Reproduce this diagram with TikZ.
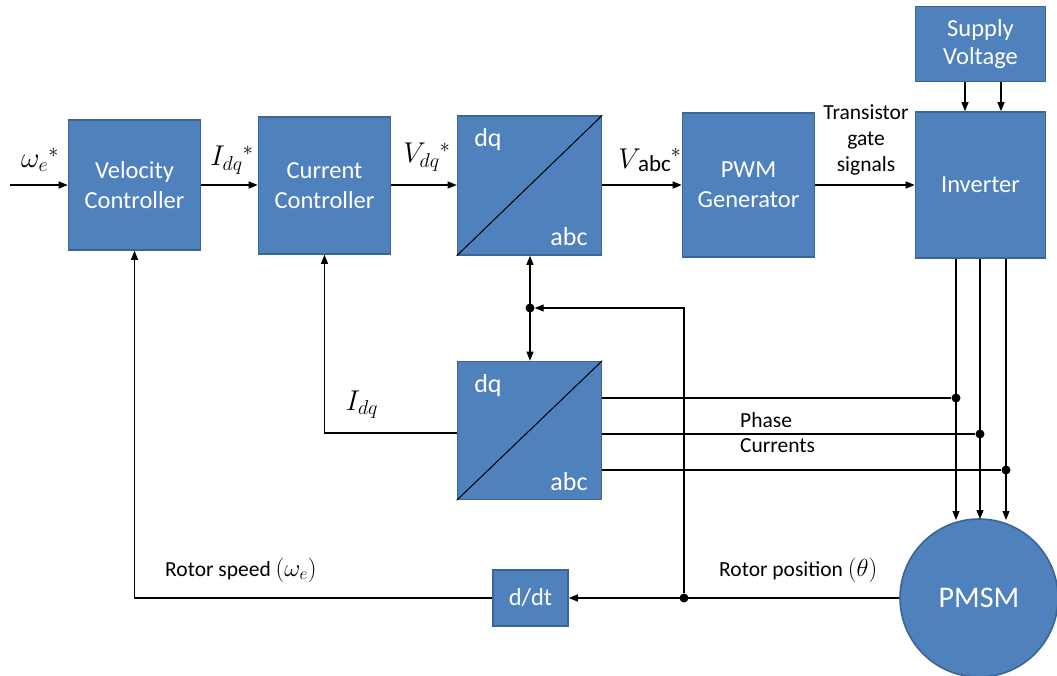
\RequirePackage{fix-cm}
\documentclass[tikz,border=0pt]{standalone}
\usepackage{fontspec}
\usepackage{graphicx}
\setmainfont{Carlito}
\usetikzlibrary{arrows.meta}
\definecolor{blk}{HTML}{4F81BD}
\definecolor{bdr}{HTML}{3A6595}
\newcommand{\mlarge}[1]{\scalebox{1.3}{#1}}
\begin{document}
\begin{tikzpicture}[x=1pt,y=-1pt,
 blockbox/.style={draw=bdr, line width=1.6pt, fill=blk, text=white, font=\fontsize{24.5}{30}\selectfont, align=center, inner sep=0pt},
 conn/.style={line width=1.2pt, -{Triangle[length=9pt,width=7pt]}},
 wire/.style={line width=1.2pt},
 dot/.style={circle, fill=black, inner sep=0pt, minimum size=9pt},
 lbl/.style={font=\fontsize{21.5}{26}\selectfont, inner sep=0pt, align=center},
 mlbl/.style={font=\fontsize{22}{26}\selectfont, inner sep=0pt},
 inlbl/.style={text=white, font=\fontsize{26}{30}\selectfont, inner sep=0pt}]
\useasboundingbox (0,0) rectangle (1057,676);

% blocks
\node[blockbox, minimum width=132pt, minimum height=130pt] (vc) at (134.5,185) {Velocity\\Controller};
\node[blockbox, minimum width=132pt, minimum height=137pt] (cc) at (324.5,185.5) {Current\\Controller};
\node[blockbox, minimum width=144pt, minimum height=139pt] (t1) at (529.5,185.5) {};
\node[blockbox, minimum width=132pt, minimum height=144pt] (pwm) at (748.5,185) {PWM\\Generator};
\node[blockbox, minimum width=130pt, minimum height=146pt] (inv) at (980.5,185) {Inverter};
\node[blockbox, minimum width=130pt, minimum height=75pt, font=\fontsize{24.5}{28}\selectfont] (sup) at (980.5,44) {Supply\\Voltage};
\node[blockbox, minimum width=144pt, minimum height=138pt] (t2) at (529.5,430.5) {};
\node[blockbox, minimum width=75pt, minimum height=56pt] (ddt) at (530.5,598) {d/dt};
\node[blockbox, circle, minimum size=158pt, font=\fontsize{30}{34}\selectfont] (pmsm) at (979,598) {PMSM};

% transform diagonals and labels
\draw[line width=1pt] (t1.south west) -- (t1.north east);
\draw[line width=1pt] (t2.south west) -- (t2.north east);
\node[inlbl] (t1dq) at (488,140) {dq};
\node[inlbl] (t1abc) at (569,237) {abc};
\node[inlbl] (t2dq) at (488,386) {dq};
\node[inlbl] (t2abc) at (569,482) {abc};

% junction points
\node[dot] (j1) at (530,308) {};
\node[dot] (j2) at (684,598) {};
\node[dot] (p1) at (956,398) {};
\node[dot] (p2) at (980,434) {};
\node[dot] (p3) at (1006,470) {};
\coordinate (in) at (10,185);
\coordinate (m1) at (956,520);
\coordinate (m2) at (980,519);
\coordinate (m3) at (1006,520);
\coordinate (s1) at (965,0);
\coordinate (s2) at (1001,0);

% forward path
\draw[conn] (in) -- (vc.west);
\draw[conn] (vc.east) -- (cc.west |- vc.east);
\draw[conn] (cc.east |- vc.east) -- (t1.west |- vc.east);
\draw[conn] (t1.east |- vc.east) -- (pwm.west |- vc.east);
\draw[conn] (pwm.east) -- (inv.west);
\draw[conn] (sup.south -| s1) -- (inv.north -| s1);
\draw[conn] (sup.south -| s2) -- (inv.north -| s2);

% inverter to motor
\draw[conn] (inv.south -| m1) -- (m1);
\draw[conn] (inv.south -| m2) -- (m2);
\draw[conn] (inv.south -| m3) -- (m3);

% phase currents
\draw[wire] (t2.east |- p1) -- (p1);
\draw[wire] (t2.east |- p2) -- (p2);
\draw[wire] (t2.east |- p3) -- (p3);

% transforms link
\draw[line width=1.2pt, {Triangle[length=9pt,width=7pt]}-{Triangle[length=9pt,width=7pt]}] (t1.south -| j1) -- (t2.north -| j1);
\draw[conn] (j2) |- (j1);

% rotor position and speed
\draw[conn] (pmsm.west) -- (ddt.east);
\draw[conn] (ddt.west) -| (vc.south);
\draw[conn] (t2.west |- 0,433) -| (cc.south);

% labels
\node[mlbl] (l1) at (40,160) {\mlarge{$\omega_e{}^{*}$}};
\node[mlbl] (l2) at (232,160) {\mlarge{$I_{dq}{}^{*}$}};
\node[mlbl] (l3) at (427,157) {\mlarge{$V_{dq}{}^{*}$}};
\node[mlbl] (l4) at (650,160) {\mlarge{$V$}\kern-3pt\raisebox{-3pt}{\fontsize{23}{26}\selectfont abc}\mlarge{$^{*}$}};
\node[lbl] (l5) at (866,140) {Transistor\\gate\\signals};
\node[mlbl] (l6) at (362,405) {\mlarge{$I_{dq}$}};
\node[lbl, anchor=west] (l7) at (740,420) {Phase};
\node[lbl, anchor=west] (l8) at (740,446) {Currents};
\node[lbl, anchor=west] (l9) at (165,570) {Rotor speed \scalebox{1.15}{$(\omega_e)$}};
\node[lbl, anchor=west] (l10) at (719,570) {Rotor position \scalebox{1.15}{$(\theta)$}};
\end{tikzpicture}
\end{document}
